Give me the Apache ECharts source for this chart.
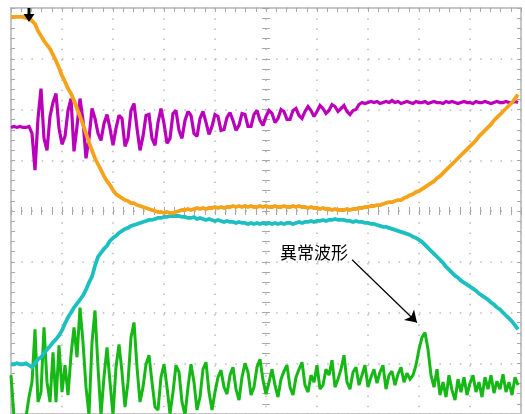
<!DOCTYPE html>
<html>
<head>
<meta charset="utf-8">
<script src="https://cdn.jsdelivr.net/npm/echarts@6/dist/echarts.min.js"></script>
<style>
html, body { margin: 0; padding: 0; background: #ffffff; }
#scope { width: 525px; height: 414px; }
</style>
</head>
<body>
<div id="scope"></div>
<script>
// Time base: 170 samples across 10 divisions (17 samples per division), centred on 0
const T0 = -85;

// Vertical unit: 51 units per division, 0 = screen centre
// CH1 (orange)
const ch1 = [
  195,195,195,195,195,194,195,
  191,188,181,176,171,167,163,157,151,144,
  136,130,123,118,111,103,95,87,78,69,
  61,53,47,41,35,30,26,21,17,15,
  13,11,10,8,8,6,5,4,3,2,
  1,0,-1,-1,-2,-1,-2,-2,-1,0,
  1,1,2,1,2,3,2,3,2,3,
  3,4,3,4,3,4,4,5,4,5,
  4,5,4,5,4,4,5,4,5,4,
  4,5,4,4,5,4,4,5,4,5,
  4,4,3,4,3,3,2,3,2,2,
  1,2,1,1,1,2,1,2,2,3,
  3,4,4,5,5,6,6,7,8,9,
  9,10,11,11,13,14,16,17,19,20,
  22,24,26,28,30,33,35,38,41,44,
  47,50,53,56,59,62,65,68,71,75,
  78,81,84,87,91,94,97,100,103,106,
  109,113,117
];

// CH2 (cyan)
const ch2 = [
  -154,-154,-153,-154,-154,-153,-155,
  -157,-153,-149,-147,-143,-139,-136,-132,-129,-125,
  -120,-113,-107,-102,-97,-93,-89,-85,-79,-72,
  -66,-55,-46,-42,-38,-35,-30,-27,-25,-22,
  -20,-18,-17,-15,-14,-13,-12,-11,-10,-9,
  -9,-8,-7,-7,-6,-6,-5,-5,-5,-5,
  -6,-6,-7,-7,-6,-8,-7,-8,-9,-8,
  -9,-10,-9,-10,-11,-10,-11,-11,-12,-11,
  -12,-12,-13,-12,-13,-12,-13,-12,-13,-12,
  -13,-12,-13,-12,-13,-12,-12,-13,-12,-11,
  -12,-11,-11,-10,-11,-10,-10,-9,-10,-9,
  -9,-8,-9,-9,-9,-10,-10,-11,-10,-11,
  -11,-12,-12,-13,-13,-14,-15,-16,-16,-17,
  -18,-19,-20,-21,-22,-23,-24,-26,-27,-29,
  -31,-34,-37,-40,-43,-46,-49,-52,-56,-59,
  -62,-65,-67,-70,-72,-74,-76,-78,-80,-83,
  -85,-87,-89,-92,-94,-97,-99,-102,-105,-108,
  -111,-115,-119
];

// CH3 (purple)
const ch3 = [
  84,85,84,85,84,84,85,
  78,41,93,123,73,61,95,109,118,83,
  67,75,101,113,60,85,113,91,53,73,
  103,93,78,71,88,97,83,66,83,96,
  93,65,73,101,108,83,61,75,96,97,
  73,66,89,103,88,68,73,98,101,81,
  73,91,100,96,78,75,93,100,89,77,
  85,97,95,81,82,94,99,91,81,86,
  98,97,85,85,97,101,91,86,95,101,
  98,89,93,102,100,92,92,101,103,96,
  93,100,105,101,95,100,106,103,98,101,
  107,105,100,103,106,100,97,101,102,107,
  109,108,109,110,109,
  110,108,109,110,109,111,109,110,
  108,109,110,109,108,110,109,109,
  110,108,109,110,109,109,108,110,
  109,110,109,108,109,110,109,109,
  108,110,109,109,110,109,108,109,
  110,109,109,110,109,109,110,109
];

// CH4 (green)
const ch4 = [
  -165,-207,-207,-207,-207,-207,-187,-172,-119,-192,
  -182,-117,-172,-192,-142,-192,-135,-182,-155,-185,
  -145,-117,-147,-97,-132,-177,-205,-132,-100,-157,
  -205,-167,-137,-172,-205,-157,-134,-162,-197,-172,
  -127,-112,-157,-192,-177,-154,-145,-172,-197,-200,
  -167,-154,-177,-204,-182,-155,-162,-192,-205,-177,
  -154,-172,-200,-187,-159,-152,-182,-200,-182,-167,
  -160,-177,-184,-165,-157,-179,-190,-167,-153,-162,
  -185,-177,-157,-149,-170,-184,-172,-159,-175,-187,
  -169,-161,-155,-177,-185,-167,-159,-152,-175,-182,
  -165,-172,-155,-179,-175,-159,-165,-150,-177,-169,
  -159,-145,-172,-179,-162,-157,-175,-165,-155,-177,
  -167,-159,-173,-162,-155,-179,-165,-161,-175,-164,
  -157,-172,-163,-169,-165,-155,-139,-127,-122,-139,
  -165,-177,-159,-185,-172,-187,-165,-180,-190,-169,
  -182,-167,-185,-173,-165,-182,-172,-187,-167,-179,
  -165,-183,-171,-179,-164,-182,-172,-185,-167,-175
];

// Annotation text and where it sits / points to
const noteText = '異常波形';
const noteAt = [16, -42];
const arrowFrom = [28.7, -49];
const arrowTo = [50.3, -112];
// Trigger position marker at the top edge
const triggerAt = [-79, 197];

const colors = { ch1: '#f6a31c', ch2: '#1dbfc0', ch3: '#bb00bb', ch4: '#16b816' };

const xRange = { min: -85, max: 85, interval: 17 };
const yRange = { min: -204, max: 204, interval: 51 };
const tickColor = '#a8a8a8';

function scopeAxis(range, gridIndex, position, onZero, withGrid) {
  const axis = {
    type: 'value',
    gridIndex: gridIndex,
    position: position,
    axisLine: { show: false, onZero: onZero },
    axisTick: { show: true, inside: true, length: 4, lineStyle: { color: tickColor, width: 1 } },
    minorTick: { show: true, splitNumber: 5, length: 4, lineStyle: { color: tickColor, width: 1 } },
    axisLabel: { show: false },
    splitLine: withGrid
      ? { show: true, lineStyle: { color: '#b9b9b9', width: 1.5, type: [1.5, 8.7] } }
      : { show: false },
    minorSplitLine: { show: false }
  };
  if (onZero) axis.axisLine.onZeroAxisIndex = 0;
  return Object.assign(axis, range);
}

function toPoints(vals) {
  return vals.map(function (v, i) { return [T0 + i, v]; });
}

function trace(name, vals, color, width) {
  return {
    type: 'line', name: name, data: toPoints(vals),
    xAxisIndex: 0, yAxisIndex: 0,
    symbol: 'none',
    lineStyle: { color: color, width: width, join: 'miter', miterLimit: 2 },
    itemStyle: { color: color },
    silent: true
  };
}

const rect = { left: 11, top: 8, width: 510, height: 408 };

const green = trace('CH4', ch4, colors.ch4, 3);
green.markLine = {
  silent: true,
  symbol: ['none', 'arrow'],
  symbolSize: 11,
  lineStyle: { color: '#000000', width: 1.2, type: 'solid' },
  itemStyle: { color: '#000000' },
  label: { show: false },
  data: [[{ coord: arrowFrom }, { coord: arrowTo }]]
};
green.markPoint = {
  silent: true,
  symbol: 'circle',
  symbolSize: 0,
  label: {
    show: true, position: 'inside', formatter: noteText,
    color: '#000000', fontSize: 17, fontFamily: 'Noto Sans CJK JP'
  },
  data: [{ coord: noteAt }]
};

const orange = trace('CH1', ch1, colors.ch1, 3.8);
orange.markPoint = {
  silent: true,
  symbol: 'path://M4,0H7V6H11L5.5,14L0,6H4Z',
  symbolSize: [11, 14],
  itemStyle: { color: '#000000' },
  label: { show: false },
  data: [{ coord: triggerAt }]
};

const option = {
  animation: false,
  backgroundColor: '#ffffff',
  grid: [
    Object.assign({ show: false }, rect),
    Object.assign({ show: true, borderColor: '#c6c6c6', borderWidth: 2, backgroundColor: 'transparent' }, rect)
  ],
  xAxis: [
    scopeAxis(xRange, 0, 'bottom', true, true),
    scopeAxis(xRange, 0, 'top', true, false),
    scopeAxis(xRange, 1, 'top', false, false)
  ],
  yAxis: [
    scopeAxis(yRange, 0, 'left', true, true),
    scopeAxis(yRange, 0, 'right', true, false),
    scopeAxis(yRange, 1, 'left', false, false),
    scopeAxis(yRange, 1, 'right', false, false)
  ],
  series: [
    green,
    trace('CH3', ch3, colors.ch3, 3.2),
    trace('CH2', ch2, colors.ch2, 3.8),
    orange
  ]
};

const chart = echarts.init(document.getElementById('scope'));
chart.setOption(option);
</script>
</body>
</html>
